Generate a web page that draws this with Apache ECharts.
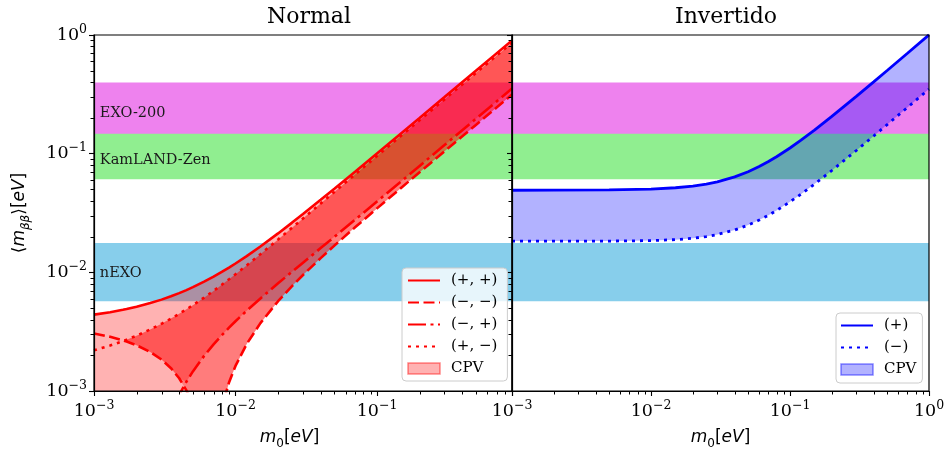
<!DOCTYPE html>
<html><head><meta charset="utf-8">
<script src="https://cdn.jsdelivr.net/npm/echarts@6/dist/echarts.min.js"></script>
<style>html,body{margin:0;padding:0;background:#fff}#c{width:948px;height:455px}</style>
</head><body><div id="c"></div>
<script>
// ---------------- data ----------------
const panelTitles = ['Normal', 'Invertido'];

// Normal ordering: lightest neutrino mass m0 and the four CP-conserving curves
const noM0 = [0.001, 0.0013, 0.0016, 0.0017, 0.002, 0.0025, 0.003, 0.0035, 0.004, 0.0045, 0.005, 0.006, 0.007, 0.008, 0.009, 0.01, 0.012, 0.015, 0.02, 0.025, 0.03, 0.04, 0.05, 0.07, 0.1, 0.15, 0.2, 0.3, 0.5, 0.7, 0.9];
const noPP = [0.004401, 0.004615, 0.004833, 0.004907, 0.005128, 0.005504, 0.005889, 0.00628, 0.006679, 0.007085, 0.007496, 0.008337, 0.009197, 0.01007, 0.01097, 0.01187, 0.01371, 0.01651, 0.02128, 0.02612, 0.03099, 0.04081, 0.05068, 0.07051, 0.1004, 0.1503, 0.2002, 0.3001, 0.5001, 0.7001, 0.9];
const noMM = [0.003051, 0.002861, 0.002674, 0.002612, 0.002429, 0.002131, 0.00184, 0.001557, 0.001281, 0.001011, 0.000748, 0.000239, 0.000251, 0.000723, 0.001181, 0.001627, 0.00249, 0.003731, 0.00571, 0.007624, 0.009498, 0.01318, 0.0168, 0.02396, 0.03459, 0.05219, 0.06973, 0.1048, 0.1747, 0.2447, 0.3146];
const noMP = [0.000851, 0.000661, 0.000473, 0.000411, 0.000227, 0.000072, 0.000364, 0.000649, 0.000926, 0.001197, 0.001463, 0.001977, 0.002472, 0.002951, 0.003416, 0.00387, 0.004752, 0.006027, 0.008079, 0.01008, 0.01206, 0.016, 0.01991, 0.02775, 0.03951, 0.05914, 0.0788, 0.1181, 0.1968, 0.2755, 0.3543];
const noPM = [0.002201, 0.002415, 0.002632, 0.002705, 0.002927, 0.003302, 0.003685, 0.004075, 0.004472, 0.004876, 0.005285, 0.006121, 0.006976, 0.007846, 0.008731, 0.009626, 0.01144, 0.01422, 0.01891, 0.02366, 0.02842, 0.03799, 0.04757, 0.06673, 0.09545, 0.1433, 0.1911, 0.2867, 0.478, 0.6692, 0.8604];

// Inverted ordering
const ioM0 = [0.001, 0.002, 0.005, 0.01, 0.015, 0.02, 0.025, 0.03, 0.04, 0.05, 0.06, 0.07, 0.08, 0.1, 0.12, 0.15, 0.2, 0.3, 0.4, 0.5, 0.7, 1.0];
const ioPlus = [0.04916, 0.04921, 0.04948, 0.05031, 0.0516, 0.05332, 0.05542, 0.05788, 0.06368, 0.07041, 0.07785, 0.0858, 0.09414, 0.1116, 0.1299, 0.158, 0.2061, 0.3041, 0.4031, 0.5025, 0.7018, 1.0012];
const ioMinus = [0.01834, 0.01833, 0.01834, 0.01851, 0.01886, 0.01937, 0.02002, 0.02082, 0.02274, 0.02502, 0.02756, 0.0303, 0.03318, 0.03925, 0.04558, 0.05538, 0.07215, 0.1064, 0.141, 0.1757, 0.2454, 0.3501];

// Experimental bands (drawn in this order)
const bandNames = ['KamLAND-Zen', 'EXO-200', 'nEXO'];
const bandLow = [0.061, 0.147, 0.0057];
const bandHigh = [0.165, 0.398, 0.0177];
const bandLabelX = 0.0011;
const bandLabelY = [0.0885, 0.22, 0.0099];

// axes
const xMin = 0.001, xMaxNormal = 0.9, xMaxInv = 1.0, yMin = 0.001, yMax = 1.0;
const decades = [0.001, 0.01, 0.1];
const minorMult = [2, 3, 4, 5, 6, 7, 8, 9];

const noLegend = ['(+, +)', '(−, −)', '(−, +)', '(+, −)', 'CPV'];
const ioLegend = ['(+)', '(−)', 'CPV '];

// ---------------- derived fill boundaries ----------------
const cpvLowNO = noM0.map((_, i) => Math.min(noMM[i], noMP[i]));
const layerBLow = noM0.map((_, i) => Math.min(noPM[i], noMM[i]));
const layerCLow = noM0.map((_, i) => Math.min(noPM[i], Math.max(noMM[i], noMP[i])));

// ---------------- styles ----------------
const SERIF = '"DejaVu Serif", serif';
const SANS = '"DejaVu Sans", sans-serif';
const RED = '#ff0000', BLUE = '#0000ff';
const bandColors = { 'EXO-200': '#ee82ee', 'KamLAND-Zen': '#90ee90', 'nEXO': '#87ceeb' };

const tickRich = {
  b: { fontFamily: SERIF, fontSize: 17.5, lineHeight: 24, color: '#000' },
  s: { fontFamily: SERIF, fontSize: 12.5, lineHeight: 8, verticalAlign: 'top', color: '#000' }
};
const nameRich = {
  it: { fontFamily: SANS, fontStyle: 'italic', fontSize: 17, lineHeight: 24, color: '#000' },
  up: { fontFamily: SANS, fontSize: 17, lineHeight: 24, color: '#000' },
  sub: { fontFamily: SANS, fontSize: 12, lineHeight: 16, verticalAlign: 'bottom', color: '#000' },
  subi: { fontFamily: SANS, fontStyle: 'italic', fontSize: 12, lineHeight: 16, verticalAlign: 'bottom', color: '#000' }
};

function powLabel(v) {
  const l = Math.log10(v), e = Math.round(l);
  if (Math.abs(l - e) > 1e-6) return '';
  return '{b|10}{s|' + (e < 0 ? '−' : '') + Math.abs(e) + '}';
}

function xAxisCfg(gi, max, namePad) {
  return {
    type: 'log', logBase: 10, gridIndex: gi, min: xMin, max: max, z: 10,
    axisLine: { show: true, lineStyle: { color: '#000', width: 1.2 } },
    axisTick: { show: true, length: 5, lineStyle: { color: '#000', width: 1.1 } },
    splitLine: { show: false },
    axisLabel: { margin: 8, formatter: powLabel, rich: tickRich },
    name: '{it|m}{sub|0}{up|[}{it|eV}{up|]}', nameLocation: 'middle', nameGap: 35,
    nameTextStyle: { rich: nameRich, padding: namePad }
  };
}
function yAxisCfg(gi, showLabels) {
  const c = {
    type: 'log', logBase: 10, gridIndex: gi, min: yMin, max: yMax, z: 10,
    axisLine: { show: true, lineStyle: { color: '#000', width: 1.2 } },
    axisTick: { show: true, length: 5, lineStyle: { color: '#000', width: 1.1 } },
    splitLine: { show: false },
    axisLabel: { show: showLabels, margin: 7, formatter: powLabel, rich: tickRich }
  };
  if (showLabels) {
    c.name = '{up|⟨}{it|m}{subi|ββ}{up|⟩[}{it|eV}{up|]}';
    c.nameLocation = 'middle';
    c.nameGap = 62;
    c.nameRotate = 90;
    c.nameTextStyle = { rich: nameRich };
  }
  return c;
}

function bandRender(showLabels) {
  return function (params, api) {
    const i = params.dataIndex;
    const cs = params.coordSys;
    const yTop = api.coord([bandLabelX, bandHigh[i]])[1];
    const yBot = api.coord([bandLabelX, bandLow[i]])[1];
    const children = [{
      type: 'rect', shape: { x: cs.x, y: yTop, width: cs.width, height: yBot - yTop },
      style: { fill: bandColors[bandNames[i]] }
    }];
    if (showLabels) {
      const p = api.coord([bandLabelX, bandLabelY[i]]);
      children.push({
        type: 'text', x: p[0], y: p[1],
        style: { text: bandNames[i], fill: '#1a1a1a', font: '14.5px ' + SERIF, align: 'left', verticalAlign: 'middle' }
      });
    }
    return { type: 'group', children };
  };
}
function bandSeries(gi, showLabels) {
  return {
    type: 'custom', xAxisIndex: gi, yAxisIndex: gi, z: 1, silent: true, clip: true,
    data: bandNames.map((_, i) => [bandLabelX, bandLow[i]]),
    renderItem: bandRender(showLabels)
  };
}
function fillSeries(name, gi, xs, up, lo, color, z) {
  return {
    type: 'custom', name: name, xAxisIndex: gi, yAxisIndex: gi, z: z, clip: true, silent: true,
    itemStyle: { color: color },
    data: xs.map((x, i) => [x, up[i]]),
    renderItem: function (params, api) {
      if (params.dataIndex !== 0) return null;
      const pts = [];
      for (let i = 0; i < xs.length; i++) pts.push(api.coord([xs[i], up[i]]));
      for (let i = xs.length - 1; i >= 0; i--) pts.push(api.coord([xs[i], lo[i]]));
      return { type: 'polygon', shape: { points: pts }, style: { fill: color } };
    }
  };
}
function lineSeries(name, gi, xs, ys, color, dash, width) {
  return {
    type: 'line', name: name, xAxisIndex: gi, yAxisIndex: gi, z: 6,
    data: xs.map((x, i) => [x, ys[i]]), symbol: 'none', showSymbol: false, clip: true,
    lineStyle: { color: color, width: width, type: dash }, itemStyle: { color: color },
    silent: true
  };
}
const TICKLEN = 3.5, TICKCOL = '#000';
function minorTickSeries(gi, xMax) {
  return {
    type: 'custom', xAxisIndex: gi, yAxisIndex: gi, z: 12, silent: true, clip: false,
    data: [[0.01, 0.01]],
    renderItem: function (params, api) {
      const cs = params.coordSys;
      const ch = [];
      const yb = cs.y + cs.height;
      decades.forEach(d => minorMult.forEach(m => {
        const v = d * m;
        if (v < xMax - 1e-9) {
          const px = Math.round(api.coord([v, 0.01])[0]) + 0.5;
          ch.push({ type: 'line', shape: { x1: px, y1: yb, x2: px, y2: yb + TICKLEN }, style: { stroke: TICKCOL, lineWidth: 1 } });
        }
        if (v < yMax) {
          const py = Math.round(api.coord([0.01, v])[1]) + 0.5;
          ch.push({ type: 'line', shape: { x1: cs.x, y1: py, x2: cs.x - TICKLEN, y2: py }, style: { stroke: TICKCOL, lineWidth: 1 } });
        }
      }));
      return { type: 'group', children: ch };
    }
  };
}

const DASHED = [11, 4.5], DASHDOT = [18, 4.5, 3, 4.5], DOTTED = [3, 5];
const HIDE_SYMBOL = { color: 'rgba(0,0,0,0)', borderColor: 'rgba(0,0,0,0)', borderWidth: 0, opacity: 0 };

const option = {
  animation: false,
  backgroundColor: '#fff',
  title: [
    { text: panelTitles[0], left: 304, top: 1, textAlign: 'center', textStyle: { fontFamily: SERIF, fontSize: 22, fontWeight: 'normal', color: '#000' } },
    { text: panelTitles[1], left: 721, top: 1, textAlign: 'center', textStyle: { fontFamily: SERIF, fontSize: 22, fontWeight: 'normal', color: '#000' } }
  ],
  grid: [
    { left: 94, top: 35, width: 418, height: 356, show: true, z: 10, borderColor: '#000', borderWidth: 1.2, backgroundColor: 'transparent', containLabel: false },
    { left: 512, top: 35, width: 417, height: 356, show: true, z: 10, borderColor: '#000', borderWidth: 1.2, backgroundColor: 'transparent', containLabel: false }
  ],
  xAxis: [xAxisCfg(0, xMaxNormal, [0, 27, 0, 0]), xAxisCfg(1, xMaxInv, [0, 0, 0, 0])],
  yAxis: [yAxisCfg(0, true), yAxisCfg(1, false)],
  legend: [
    {
      left: 402, top: 268, orient: 'vertical', itemWidth: 32, itemHeight: 11, itemGap: 7, z: 20,
      padding: [5, 10, 5, 5], backgroundColor: 'rgba(255,255,255,0.8)', borderColor: '#cccccc', borderWidth: 1, borderRadius: 4,
      textStyle: { fontFamily: SERIF, fontSize: 15, lineHeight: 15, color: '#000', padding: [0, 0, 0, 6] },
      data: [
        { name: noLegend[0], itemStyle: HIDE_SYMBOL }, { name: noLegend[1], itemStyle: HIDE_SYMBOL },
        { name: noLegend[2], itemStyle: HIDE_SYMBOL }, { name: noLegend[3], itemStyle: HIDE_SYMBOL },
        { name: noLegend[4], icon: 'rect', itemStyle: { color: 'rgba(255,0,0,0.3)', borderColor: 'rgba(255,0,0,0.45)', borderWidth: 1.5 } }],
      selectedMode: false
    },
    {
      left: 836, top: 313, orient: 'vertical', itemWidth: 32, itemHeight: 11, itemGap: 7, z: 20,
      padding: [5, 6, 6, 4], backgroundColor: 'rgba(255,255,255,0.8)', borderColor: '#cccccc', borderWidth: 1, borderRadius: 4,
      textStyle: { fontFamily: SERIF, fontSize: 15, lineHeight: 15, color: '#000', padding: [0, 0, 0, 6] },
      formatter: n => n.trim(),
      data: [{ name: ioLegend[0], itemStyle: HIDE_SYMBOL }, { name: ioLegend[1], itemStyle: HIDE_SYMBOL },
        { name: ioLegend[2], icon: 'rect', itemStyle: { color: 'rgba(0,0,255,0.3)', borderColor: 'rgba(0,0,255,0.45)', borderWidth: 1.5 } }],
      selectedMode: false
    }
  ],
  series: [
    bandSeries(0, true),
    fillSeries(noLegend[4], 0, noM0, noPP, cpvLowNO, 'rgba(255,0,0,0.3)', 2),
    fillSeries('', 0, noM0, noPM, layerBLow, 'rgba(255,0,0,0.3)', 3),
    fillSeries('', 0, noM0, noPM, layerCLow, 'rgba(255,0,0,0.3)', 4),
    lineSeries(noLegend[0], 0, noM0, noPP, RED, 'solid', 2.6),
    lineSeries(noLegend[1], 0, noM0, noMM, RED, DASHED, 2.6),
    lineSeries(noLegend[2], 0, noM0, noMP, RED, DASHDOT, 2.6),
    lineSeries(noLegend[3], 0, noM0, noPM, RED, DOTTED, 2.6),
    minorTickSeries(0, xMaxNormal),

    bandSeries(1, false),
    fillSeries(ioLegend[2], 1, ioM0, ioPlus, ioMinus, 'rgba(0,0,255,0.3)', 2),
    lineSeries(ioLegend[0], 1, ioM0, ioPlus, BLUE, 'solid', 2.8),
    lineSeries(ioLegend[1], 1, ioM0, ioMinus, BLUE, DOTTED, 2.8),
    minorTickSeries(1, xMaxInv)
  ]
};

const chart = echarts.init(document.getElementById('c'), null, { renderer: 'canvas' });
chart.setOption(option);
</script>
</body></html>
